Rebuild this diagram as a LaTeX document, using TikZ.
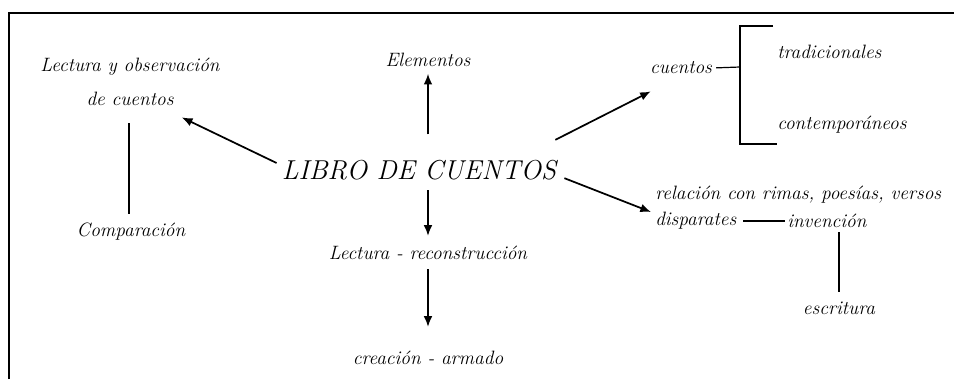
\documentclass[tikz,border=0pt]{standalone}
\usepackage{amsmath}
\usepackage{tikz}
\usepackage{xcolor}
\usetikzlibrary{positioning,arrows.meta}

\begin{document}
\begin{tikzpicture}[x=0.75pt,y=-0.75pt]
\tikzstyle{every node}+=[inner sep=0pt,font=\fontsize{14.5}{17}\selectfont\itshape]
\tikzstyle{arr}=[black,line width=1.3pt,-{Latex[length=8pt,width=6.5pt]}]
\tikzstyle{lnk}=[black,line width=0.9pt]
\useasboundingbox (0,0) rectangle (954,379);
\draw [black,line width=1.4pt] (9,379) -- (9,13) -- (954,13);
\node (libro) at (419,170) {\fontsize{20.5}{24}\selectfont LIBRO DE CUENTOS};
\node (lectobs) [align=center] at (130,82) {Lectura y observación\\[9pt]de cuentos};
\node (comp) at (131,232) {Comparación};
\node (elem) at (428,60) {Elementos};
\node (recon) at (428,253) {Lectura - reconstrucción};
\node (crea) at (428,358) {creación - armado};
\node (cuentos) at (681,68) {cuentos};
\node (trad) [anchor=west] at (777,52) {tradicionales};
\node (contemp) [anchor=west] at (777,125) {contemporáneos};
\node (rel) [anchor=west] at (655,195) {relación con rimas, poesías, versos};
\node (disp) [anchor=west] at (655,221) {disparates};
\node (inv) [anchor=west] at (787,221) {invención};
\node (escr) at (839,308) {escritura};
\coordinate (brk) at (740,67);
\draw [arr] ([shift={(-5,-7)}]libro.west) -- ([shift={(-38,11)}]lectobs.south east);
\draw [lnk,shorten <=12.5pt,shorten >=6.5pt] (lectobs.south -| 129,0) -- (comp.north -| 129,0);
\draw [arr,shorten <=19pt,shorten >=5pt] (elem.south |- libro.north) -- (elem.south);
\draw [arr,shorten <=7.5pt,shorten >=7.5pt] (recon.north |- libro.south) -- (recon.north);
\draw [arr,shorten <=7pt,shorten >=18pt] (recon.south) -- (crea.north);
\draw [arr] ([shift={(-1,-20)}]libro.north east) -- ([shift={(1,17)}]cuentos.south west);
\draw [lnk,shorten <=3pt] (cuentos.east) -- (brk);
\draw [black,line width=1.5pt] (773,26) -- (740,26) -- (740,144) -- (777,144);
\draw [arr] ([shift={(8,-2)}]libro.south east) -- ([shift={(-4,17)}]rel.west);
\draw [lnk,line width=1.2pt,shorten <=5pt,shorten >=1.5pt] (disp.east) -- (disp.east -| inv.west);
\draw [lnk,line width=1.4pt,shorten <=3pt,shorten >=7pt] (escr.north |- inv.south) -- (escr.north);
\end{tikzpicture}
\end{document}
